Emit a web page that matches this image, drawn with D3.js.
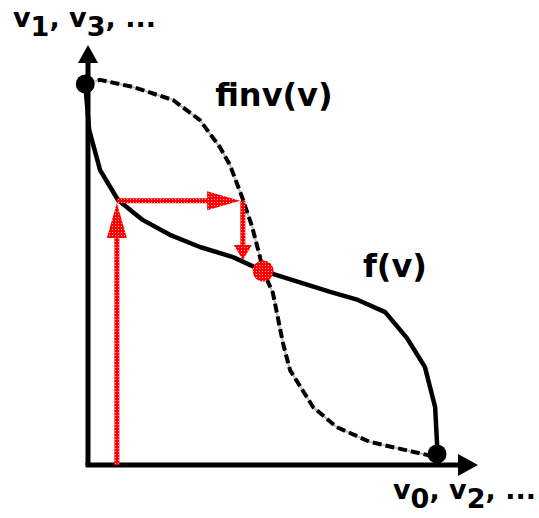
<!DOCTYPE html>
<html>
<head>
<meta charset="utf-8">
<script src="https://cdn.jsdelivr.net/npm/d3@7"></script>
<style>
  body { margin: 0; background: #fff; }
  text { font-family: "DejaVu Sans", Verdana, sans-serif; font-weight: bold; fill: #000; }
</style>
</head>
<body>
<div id="graphic"></div>
<script>
// f(v) curve (data units, 0..10 on both axes)
const fX = [-0.07, 0.03, 0.31, 0.77, 1.41, 2.10, 2.87, 3.72, 4.49, 6.21, 6.92, 7.62, 8.18, 8.64, 8.90, 8.95, 8.95];
const fY = [9.07, 7.98, 7.02, 6.31, 5.83, 5.48, 5.19, 4.95, 4.62, 4.12, 3.93, 3.64, 3.02, 2.33, 1.38, 0.52, 0.26];

// finv(v) curve
const finvX = [-0.07, 0.31, 1.15, 2.18, 2.87, 3.38, 3.64, 3.95, 4.21, 4.41, 4.49, 4.74, 5.00, 5.18, 5.77, 6.38, 7.23, 8.69, 8.95];
const finvY = [9.07, 9.17, 9.00, 8.69, 8.21, 7.57, 7.14, 6.38, 5.67, 4.95, 4.62, 4.10, 2.90, 2.26, 1.38, 0.90, 0.55, 0.24, 0.21];

// fixed point where the two curves cross
const fixedPoint = [4.49, 4.62];

// cobweb step arrows (start -> end)
const stepX1 = [0.74, 0.74, 3.97];
const stepY1 = [0.00, 6.29, 6.29];
const stepX2 = [0.74, 3.90, 3.97];
const stepY2 = [6.24, 6.29, 4.88];

// curve labels
const curveLabels = ["finv(v)", "f(v)"];
const curveLabelX = [3.26, 7.05];
const curveLabelY = [8.55, 4.48];

// axis labels: [base, subscript] pieces
const yAxisLabel = [["v", "1"], [", v", "3"], [", ...", ""]];
const xAxisLabel = [["v", "0"], [", v", "2"], [", ...", ""]];

const width = 539, height = 518;

const x = d3.scaleLinear().domain([0, 10]).range([88, 478]);
const y = d3.scaleLinear().domain([0, 10]).range([465, 45]);

const svg = d3.select("#graphic")
    .append("svg")
    .attr("width", width)
    .attr("height", height);

// red speckled fill like the original clip-art
const defs = svg.append("defs");
const pat = defs.append("pattern")
    .attr("id", "speckle")
    .attr("patternUnits", "userSpaceOnUse")
    .attr("width", 3).attr("height", 3);
pat.append("rect").attr("width", 3).attr("height", 3).attr("fill", "#ff0000");
pat.append("rect").attr("x", 1).attr("y", 1).attr("width", 1).attr("height", 1).attr("fill", "#ffb0b0");

// triangle head at (tx,ty) pointing along (dx,dy)
function headPath(tx, ty, dx, dy, len, wid) {
    const n = Math.hypot(dx, dy), ux = dx / n, uy = dy / n;
    const bx = tx - ux * len, by = ty - uy * len;
    const px = -uy * wid / 2, py = ux * wid / 2;
    return "M" + tx + "," + ty + "L" + (bx + px) + "," + (by + py) + "L" + (bx - px) + "," + (by - py) + "Z";
}

// axes
const x0 = x.range()[0], xEnd = x.range()[1];
const y0 = y.range()[0], yEnd = y.range()[1];
svg.append("line")
    .attr("x1", x0).attr("y1", y0).attr("x2", x0).attr("y2", yEnd + 15)
    .attr("stroke", "#000").attr("stroke-width", 5);
svg.append("path").attr("d", headPath(x0, yEnd, 0, -1, 18, 20)).attr("fill", "#000");
svg.append("line")
    .attr("x1", x0 - 2.5).attr("y1", y0).attr("x2", xEnd - 15).attr("y2", y0)
    .attr("stroke", "#000").attr("stroke-width", 5);
svg.append("path").attr("d", headPath(xEnd, y0, 1, 0, 20, 22)).attr("fill", "#000");

// curves
const line = d3.line()
    .x(d => x(d[0]))
    .y(d => y(d[1]));

const finvData = finvX.map((v, i) => [v, finvY[i]]);
const fData = fX.map((v, i) => [v, fY[i]]);

svg.append("path")
    .datum(finvData)
    .attr("fill", "none")
    .attr("stroke", "#bbb")
    .attr("stroke-width", 2)
    .attr("d", line);
svg.append("path")
    .datum(finvData)
    .attr("fill", "none")
    .attr("stroke", "#000")
    .attr("stroke-width", 4)
    .attr("stroke-dasharray", "9,4")
    .attr("stroke-linejoin", "round")
    .attr("d", line);

svg.append("path")
    .datum(fData)
    .attr("fill", "none")
    .attr("stroke", "#000")
    .attr("stroke-width", 4.5)
    .attr("stroke-linejoin", "round")
    .attr("d", line);

// end dots
svg.append("circle")
    .attr("cx", x(fX[0])).attr("cy", y(fY[0])).attr("r", 9.5).attr("fill", "#000");
svg.append("circle")
    .attr("cx", x(fX[fX.length - 1])).attr("cy", y(fY[fY.length - 1])).attr("r", 9.5).attr("fill", "#000");

// cobweb arrows
const headLen = [35, 33, 15], headWid = [20, 19, 18];
stepX1.forEach((_, i) => {
    const sx = x(stepX1[i]), sy = y(stepY1[i]);
    const ex = x(stepX2[i]), ey = y(stepY2[i]);
    const dx = ex - sx, dy = ey - sy, n = Math.hypot(dx, dy);
    const lx = ex - dx / n * (headLen[i] - 2), ly = ey - dy / n * (headLen[i] - 2);
    svg.append("line")
        .attr("x1", sx).attr("y1", sy).attr("x2", lx).attr("y2", ly)
        .attr("stroke", "url(#speckle)").attr("stroke-width", 5);
    svg.append("path")
        .attr("d", headPath(ex, ey, dx, dy, headLen[i], headWid[i]))
        .attr("fill", "url(#speckle)");
});

// fixed point marker
svg.append("circle")
    .attr("cx", x(fixedPoint[0])).attr("cy", y(fixedPoint[1]))
    .attr("r", 10.5)
    .attr("fill", "url(#speckle)");

// curve labels
curveLabels.forEach((t, i) => {
    svg.append("text")
        .attr("x", x(curveLabelX[i]))
        .attr("y", y(curveLabelY[i]))
        .attr("font-size", 32)
        .text(t);
});

// axis labels with subscripts (same size, dropped 9px)
function subLabel(parts, px, py) {
    const t = svg.append("text").attr("x", px).attr("y", py).attr("font-size", 27);
    let down = false;
    parts.forEach(p => {
        t.append("tspan").attr("dy", down ? -9 : 0).text(p[0]);
        down = false;
        if (p[1]) {
            t.append("tspan").attr("dy", 9).text(p[1]);
            down = true;
        }
    });
}
subLabel(yAxisLabel, x0 - 75, yEnd - 18);
subLabel(xAxisLabel, xEnd - 85, y0 + 34);
</script>
</body>
</html>
